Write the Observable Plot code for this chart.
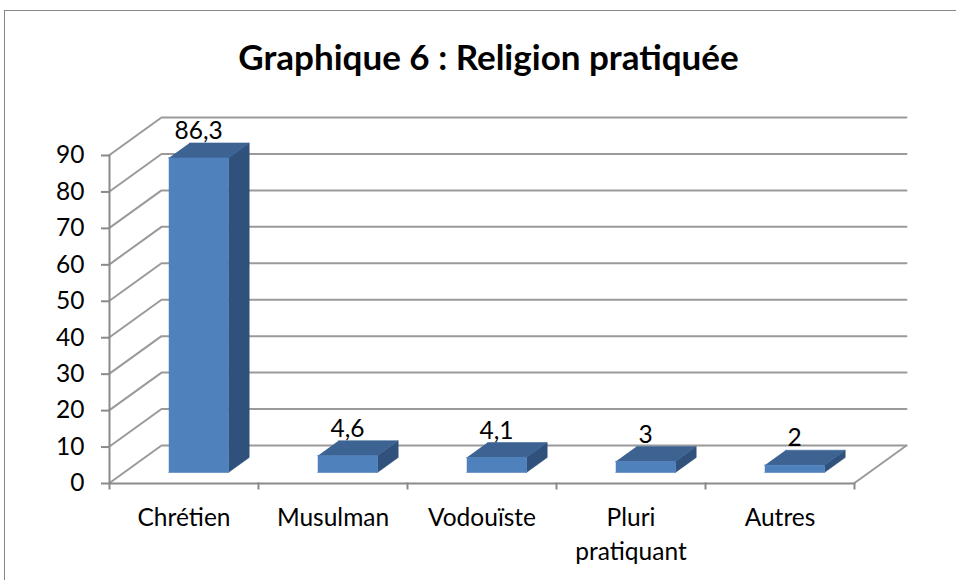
<!DOCTYPE html>
<html lang="fr">
<head>
<meta charset="utf-8">
<script src="https://cdn.jsdelivr.net/npm/d3@7"></script>
<script src="https://cdn.jsdelivr.net/npm/@observablehq/plot@0.6"></script>
<style>
  html, body { margin: 0; padding: 0; background: #fff; overflow: hidden; }
  #frame { position: absolute; left: 4px; top: 10px; right: -4px; bottom: -4px; border: 1.5px solid #868686; box-sizing: border-box; pointer-events: none; }
  #chart svg { display: block; }
</style>
</head>
<body>
<div id="chart"></div>
<div id="frame"></div>
<script>
const titleText = "Graphique 6 : Religion pratiquée";
const categories = ["Chrétien", "Musulman", "Vodouïste", "Pluri\npratiquant", "Autres"];
const values = [86.3, 4.6, 4.1, 3, 2];
const valueLabels = ["86,3", "4,6", "4,1", "3", "2"];
const yTicks = [0, 10, 20, 30, 40, 50, 60, 70, 80, 90];

// oblique projection of the chart's depth axis, in data units per unit of depth
const depthX = 0.349, depthY = 10.29;
const barFrontDepth = 0.28, barBackDepth = 0.68;
const barStart = 0.3, barEnd = 0.7;
const project = (i, v, d) => ({x: i + d * depthX, y: v + d * depthY});

const gridColor = "#9a9a9a", axisColor = "#8a8a8a";
const frontColor = "#4f81bd", sideColor = "#30517b", topColor = "#3c6392";

const poly = (key, pts) => pts.map(p => ({key, ...project(...p)}));

const gridLines = yTicks.flatMap(v => poly("g" + v, [[0, v, 0], [0, v, 1], [categories.length, v, 1]]));
const floorRight = poly("floor", [[categories.length, 0, 0], [categories.length, 0, 1]]);

const sideFaces = values.flatMap((v, i) => poly("s" + i, [
  [i + barEnd, 0, barFrontDepth], [i + barEnd, 0, barBackDepth],
  [i + barEnd, v, barBackDepth], [i + barEnd, v, barFrontDepth]
]));
const topFaces = values.flatMap((v, i) => poly("t" + i, [
  [i + barStart, v, barFrontDepth], [i + barEnd, v, barFrontDepth],
  [i + barEnd, v, barBackDepth], [i + barStart, v, barBackDepth]
]));
const frontFaces = values.flatMap((v, i) => poly("f" + i, [
  [i + barStart, 0, barFrontDepth], [i + barEnd, 0, barFrontDepth],
  [i + barEnd, v, barFrontDepth], [i + barStart, v, barFrontDepth]
]));
const labelRows = values.map((v, i) => ({
  ...project(i + 0.5, v, barBackDepth),
  x: project(i + 0.5, v, barFrontDepth).x,
  label: valueLabels[i]
}));
const catRows = categories.map((c, i) => ({x: i + 0.5, label: c}));

const font = "Lato, Carlito, Calibri, 'Open Sans', sans-serif";

const face = (data, fill) => Plot.line(data, {x: "x", y: "y", z: "key", fill, stroke: fill, strokeWidth: 0.6});

const plot = Plot.plot({
  width: 956,
  height: 580,
  marginTop: 154.5,
  marginBottom: 97.5,
  marginLeft: 109,
  marginRight: 102,
  style: {fontFamily: font, background: "transparent", color: "#000"},
  x: {type: "linear", domain: [0, categories.length]},
  y: {type: "linear", domain: [0, 90]},
  marks: [
    Plot.line(gridLines, {x: "x", y: "y", z: "key", stroke: gridColor, strokeWidth: 2}),
    Plot.line(floorRight, {x: "x", y: "y", z: "key", stroke: gridColor, strokeWidth: 2}),
    Plot.axisY({ticks: yTicks, tickSize: 8, tickPadding: 17, fontSize: 24.5, label: null, stroke: axisColor, strokeWidth: 2, fill: "#000", dy: 0.5}),
    Plot.axisX({ticks: d3.range(0, categories.length + 1), tickSize: 7, tickPadding: 0, tickFormat: () => "", label: null, stroke: axisColor, strokeWidth: 2}),
    Plot.ruleX([0], {y1: 0, y2: 90, stroke: axisColor, strokeWidth: 2}),
    Plot.ruleY([0], {x1: 0, x2: categories.length, stroke: axisColor, strokeWidth: 2, dy: 0.5}),
    face(sideFaces, sideColor),
    face(topFaces, topColor),
    face(frontFaces, frontColor),
    Plot.text(labelRows, {x: "x", y: "y", text: "label", fontSize: 24.5, dy: -4, lineAnchor: "bottom", fill: "#000"}),
    Plot.text(catRows, {x: "x", y: 0, text: "label", fontSize: 24.5, dy: 20, lineAnchor: "top", lineHeight: 1.35, fill: "#000"}),
    Plot.text([titleText], {frameAnchor: "top-left", text: d => d, textAnchor: "middle", dx: 379, dy: -96, fontSize: 35, fontWeight: 700, lineAnchor: "middle", fill: "#000"})
  ]
});
document.getElementById("chart").append(plot);
</script>
</body>
</html>
